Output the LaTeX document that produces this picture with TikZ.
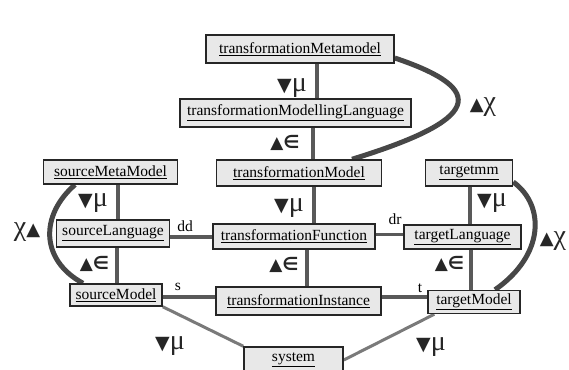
\documentclass[tikz,border=0pt]{standalone}
\usepackage{fontspec}
\setmainfont{Liberation Serif}
\newfontfamily\symf{DejaVu Sans}
\usetikzlibrary{backgrounds}
\newcommand\lblMu{{\symf\fontsize{19}{19}\selectfont ▼}{\fontsize{28}{28}\selectfont μ}}
\newcommand\lblIn{{\symf\fontsize{17}{17}\selectfont ▲}{\symf\bfseries\fontsize{18}{18}\selectfont ∈}}
\newcommand\lblChiL{{\fontsize{28}{28}\selectfont χ}{\symf\fontsize{18}{18}\selectfont ▲}}
\newcommand\lblChiR{{\symf\fontsize{18}{18}\selectfont ▲}{\fontsize{28}{28}\selectfont χ}}
\begin{document}
\begin{tikzpicture}[x=1pt,y=-1pt,
  box/.style={draw=black!85,line width=1.5pt,fill=gray!18,inner sep=0pt,font=\fontsize{15.5}{15.5}\selectfont},
  vline/.style={draw=black!65,line width=3.5pt},
  hline/.style={draw=black!65,line width=3.5pt},
  sline/.style={draw=black!52,line width=3pt},
  arcline/.style={draw=black!72,line width=5pt},
  lbl/.style={inner sep=0pt,text=black!85},
  small/.style={inner sep=0pt,font=\fontsize{15.5}{15.5}\selectfont}]
\useasboundingbox (0,0) rectangle (569,369);
% boxes
\node[box,minimum width=188pt,minimum height=28pt] (tMM) at (300,49) {\underline{transformationMetamodel}};
\node[box,minimum width=231pt,minimum height=28pt] (tMLL) at (295.5,113) {\underline{transformationModellingLanguage}};
\node[box,minimum width=165pt,minimum height=26pt] (tMod) at (299,173) {\underline{transformationModel}};
\node[box,minimum width=134pt,minimum height=24pt] (sMM) at (110.6,172) {\underline{sourceMetaModel}};
\node[box,minimum width=87pt,minimum height=26pt] (tmm) at (469,173) {\underline{targetmm}};
\node[box,minimum width=113pt,minimum height=27pt] (sL) at (113,233.5) {\underline{sourceLanguage}};
\node[box,minimum width=162pt,minimum height=25pt] (tF) at (294,236.5) {\underline{transformationFunction}};
\node[box,minimum width=117pt,minimum height=24pt] (tL) at (462.5,237) {\underline{targetLanguage}};
\node[box,minimum width=92pt,minimum height=22pt] (sM) at (116,295) {\underline{sourceModel}};
\node[box,minimum width=165pt,minimum height=28pt] (tI) at (298.5,301) {\underline{transformationInstance}};
\node[box,minimum width=92pt,minimum height=23pt] (tM) at (474,302) {\underline{targetModel}};
\node[box,minimum width=99pt,minimum height=26pt] (sys) at (293.5,360) {\underline{system}};
% labels
\node[lbl] (m1) at (292,88) {\lblMu};
\node[lbl] (e1) at (285,143) {\lblIn};
\node[lbl] (m2) at (289,208) {\lblMu};
\node[lbl] (e2) at (284,265) {\lblIn};
\node[lbl] (m3) at (93,203) {\lblMu};
\node[lbl] (e3) at (94.5,264) {\lblIn};
\node[lbl] (m4) at (492,203) {\lblMu};
\node[lbl] (e4) at (449.5,263.5) {\lblIn};
\node[lbl] (m5) at (170,346) {\lblMu};
\node[lbl] (m6) at (431,347) {\lblMu};
\node[lbl] (c1) at (27,232) {\lblChiL};
\node[lbl] (c2) at (483,107) {\lblChiR};
\node[lbl] (c3) at (553,241) {\lblChiR};
\node[small] (ldd) at (185,226) {dd};
\node[small] (ldr) at (395,219) {dr};
\node[small] (ls) at (178,287) {s};
\node[small] (lt) at (420,288) {t};
\begin{pgfonlayer}{background}
\fill[white] (0,0) rectangle (569,369);
\draw[vline] ([xshift=17pt]tMM.south) -- ([xshift=21.5pt]tMLL.north);
\draw[vline] ([xshift=17.5pt]tMLL.south) -- ([xshift=14pt]tMod.north);
\draw[vline] ([xshift=15pt]tMod.south) -- ([xshift=20pt]tF.north);
\draw[vline] ([xshift=13pt]tF.south) -- ([xshift=8.5pt]tI.north);
\draw[vline] ([xshift=7.4pt]sMM.south) -- ([xshift=5pt]sL.north);
\draw[vline] ([xshift=4pt]sL.south) -- ([xshift=1pt]sM.north);
\draw[vline] ([xshift=1pt]tmm.south) -- ([xshift=7.5pt]tL.north);
\draw[vline] ([xshift=8.5pt]tL.south) -- ([xshift=-3pt]tM.north);
\draw[hline] ([yshift=-3.5pt]sL.east) -- ([yshift=-0.5pt]tF.west);
\draw[hline] ([yshift=2pt]tF.east) -- ([yshift=2.5pt]tL.west);
\draw[hline] ([yshift=-2pt]sM.east) -- ([yshift=4pt]tI.west);
\draw[hline] ([yshift=4pt]tI.east) -- ([yshift=5pt]tM.west);
\draw[sline] (sM.south east) -- (sys.north west);
\draw[sline] (sys.east) -- ([xshift=7pt]tM.south west);
\draw[arcline] ([yshift=-9pt]tMM.east) .. controls (490,90) and (480,120) .. ([xshift=53pt]tMod.north);
\draw[arcline] ([xshift=-35.6pt]sMM.south) .. controls (40,215) and (40,260) .. ([xshift=-33pt]sM.north);
\draw[arcline] ([yshift=-9pt]tmm.east) .. controls (545,205) and (545,255) .. ([xshift=21pt]tM.north);
\end{pgfonlayer}
\end{tikzpicture}
\end{document}
